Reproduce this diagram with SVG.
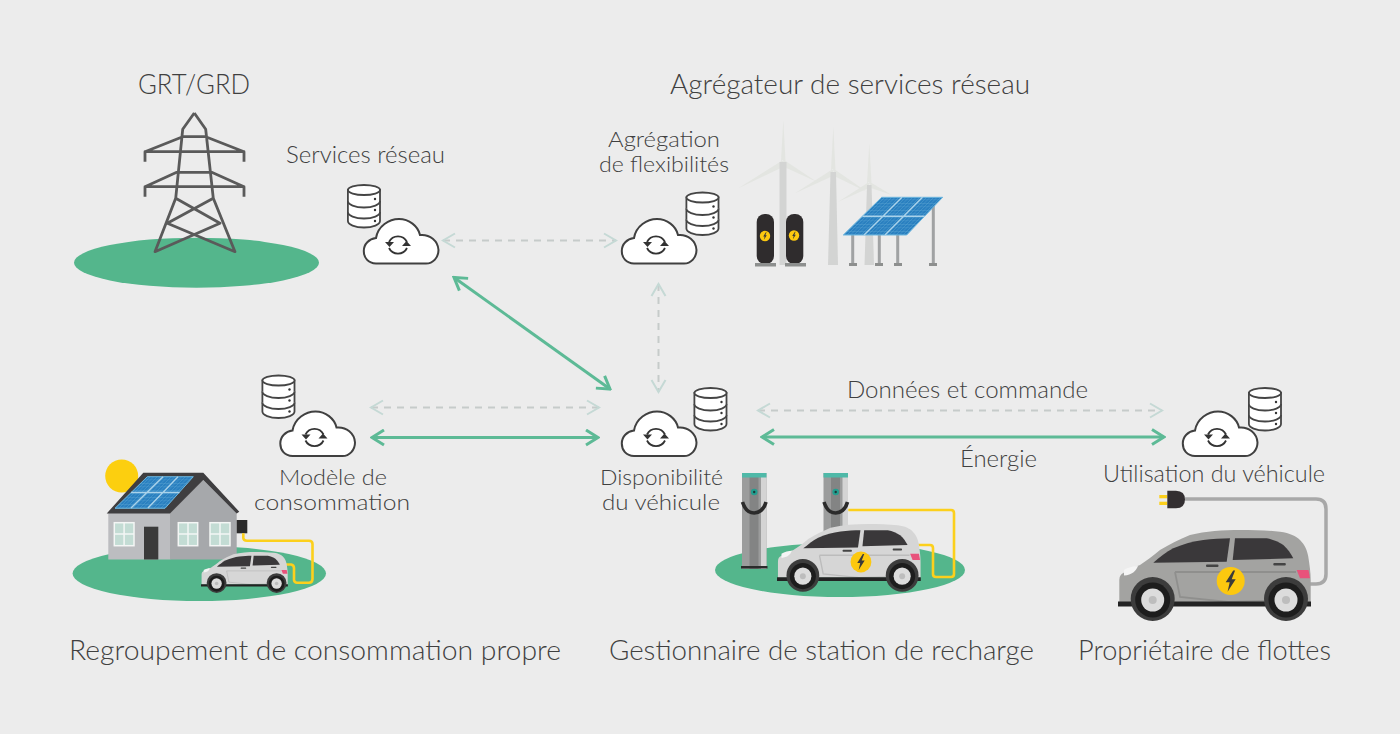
<svg xmlns="http://www.w3.org/2000/svg" width="1400" height="734" viewBox="0 0 1400 734">
<style>
text{font-family:"Lato","Open Sans","Liberation Sans",sans-serif;font-weight:300;fill:#404040}
.t1{font-size:27.5px}
.t2{font-size:23px}
.t3{font-size:22.4px}
.ground{fill:#54b68c}
.solid{fill:none;stroke:#5dba96;stroke-width:3;marker-start:url(#ag);marker-end:url(#ag)}
.dash{fill:none;stroke:#c6cbca;stroke-width:2;stroke-dasharray:7 6;marker-start:url(#ap);marker-end:url(#ap)}
.cab{fill:none;stroke:#fcd01c;stroke-width:2.6;stroke-linejoin:round}
.tw{fill:none;stroke:#5a5a5a;stroke-width:2.8;stroke-linejoin:round}
.blade{fill:#e3e5e1}
.mast{fill:#d3d4d3}
.leg{stroke:#a0a2a3;stroke-width:3}
.foot{fill:#8d8f8e}
.pv{fill:url(#cells);stroke:#6cb6de;stroke-width:1}
.pvl{stroke:#a9d2ea;stroke-width:1.4;fill:none}
.win{fill:#c3dcd4;stroke:#f4f6f5;stroke-width:1.5}
.winl{stroke:#f4f6f5;stroke-width:1.500;fill:none}
</style>
<defs>
<pattern id="cells" width="3.500" height="3.500" patternUnits="userSpaceOnUse" patternTransform="skewX(-45)"><rect width="3.500" height="3.500" fill="#2a80c0"/><path d="M0,0H3.500M0,0V3.500" stroke="#5fa8d6" stroke-width=".7"/></pattern>
<marker id="ag" viewBox="0 0 16 18" refX="14" refY="9" markerWidth="16" markerHeight="18" markerUnits="userSpaceOnUse" orient="auto-start-reverse"><path d="M2,1.500 14,9 2,16.500" fill="none" stroke="#5dba96" stroke-width="3"/></marker>
<marker id="ap" viewBox="0 0 16 18" refX="14" refY="9" markerWidth="16" markerHeight="18" markerUnits="userSpaceOnUse" orient="auto-start-reverse"><path d="M2,2 14,9 2,16" fill="none" stroke="#c5d9d5" stroke-width="2"/></marker>
<g id="cloud">
<path d="M13,45.500C5,45.500 .8,39.500 .8,33C.8,26 6,21 13,20C15,8 26,1 36,1C46,1 55,8 57,17C67,16 75,23 75.500,32C75.500,39.500 70,45.500 63,45.500Z" fill="#fff" stroke="#404040" stroke-width="2"/>
<path d="M26,24A10,10 0 0 1 44,24M44,30A10,10 0 0 1 26,30" fill="none" stroke="#333" stroke-width="1.800"/>
<path d="M22,25H31L26.500,30ZM39,29H48L43.500,24Z" fill="#333" transform="translate(0,-1)"/>
</g>
<g id="db" fill="#fff" stroke="#454545" stroke-width="1.800">
<path d="M.9,6V37C.9,40.500 8,43.500 17,43.500S33,40.500 33,37V6Z"/>
<path d="M.9,17C.9,20.500 8,23.500 17,23.500S33,20.500 33,17M.9,28C.9,31.500 8,34.500 17,34.500S33,31.500 33,28"/>
<ellipse cx="17" cy="6" rx="16" ry="5"/>
<g fill="#333" stroke="none"><circle cx="28" cy="15" r="1.200"/><circle cx="28" cy="26" r="1.200"/><circle cx="28" cy="37" r="1.200"/></g>
</g>
<path id="bolt" d="M2,-8.500 -4,1 -.8,1 -2.500,8.500 4,-1.500 .8,-1.500 3.500,-8.500Z" fill="#3a3a3a"/>
<g id="car">
<path d="M1.300,72V50C1.500,46 3,44 5.300,43C10,40 16,37 22,35C28,31 35,26 42,20C52,14 62,9 72,5C88,1 105,0 122,0C136,0 150,.3 162,1.700C172,3 178,6 182,10C187,15 189,20 190.300,26.700C191.500,35 192.700,42 192.700,50V72Z"/>
<path d="M0,71.500H193V76.500H0Z" fill="#232323"/>
<circle cx="34.700" cy="69" r="22" fill="#3c3c3c"/><circle cx="168" cy="69" r="22" fill="#3c3c3c"/>
<path d="M57,42 62,67 110,72 146,71M57,42H178" fill="none" stroke="#000" stroke-opacity=".12" stroke-width="1.800"/>
<path d="M35.300,32.700C42,27 48,22 55.300,18.300C65,14 75,11.500 85.300,10C94,9 104,8.300 112,8.300L108.700,31.700Z" fill="#3a383a"/>
<path d="M117,8.300H148.700C155,9.500 161,12 165.300,15C170,19 173,24 175.300,28.300L114.700,30Z" fill="#3a383a"/>
<rect x="88" y="34.500" width="12.500" height="2.600" rx="1" fill="#444"/><rect x="155.300" y="33" width="12.500" height="2.600" rx="1" fill="#444"/>
<path d="M178.700,40H190.500L192,48.300H182Z" fill="#e8527b"/>
<path d="M6,40C10,37.500 16,36 20,36C18,41 14,45 6,45.500Z" fill="#f5f5f5"/>
<circle cx="34.700" cy="70" r="17.500" fill="#1d1d1d"/><circle cx="168" cy="70" r="17.500" fill="#1d1d1d"/>
<circle cx="34.700" cy="70" r="11.500" fill="#dcdcdc"/><circle cx="168" cy="70" r="11.500" fill="#dcdcdc"/>
<circle cx="34.700" cy="70" r="4" fill="#bdbdbd"/><circle cx="168" cy="70" r="4" fill="#bdbdbd"/>
</g>
<g id="badge"><circle cx="112.700" cy="51" r="14" fill="#fcc80f"/><use href="#bolt" transform="translate(112.700,51) scale(1.250)"/></g>
<g id="pillar">
<rect x="0" y="0" width="24.500" height="96" fill="#9b9c9c"/>
<rect x="7.500" y="0" width="9" height="96" fill="#838484"/>
<rect x="19" y="0" width="5.500" height="96" fill="#d4d4d4"/>
<rect x="0" y="0" width="24.500" height="4.500" fill="#4fb9a8"/>
<circle cx="12.200" cy="19" r="3.300" fill="#239e8f"/><circle cx="12.200" cy="19" r="1.200" fill="#1c3a3a"/>
<path d="M.5,29C3,37 8,40 12.200,40S22,37 24,29" fill="none" stroke="#2b2b2b" stroke-width="3.600"/>
</g>
</defs>
<rect width="1400" height="734" fill="#ececec"/>

<g id="connectors">
<path class="dash" d="M443,240.500H616"/>
<path class="dash" d="M658.500,284V392"/>
<path class="dash" d="M371,407.500H599"/>
<path class="dash" d="M758,410.500H1162"/>
<path class="solid" d="M454,277.500 610,389"/>
<path class="solid" d="M372,437.500H598"/>
<path class="solid" d="M762,437H1164"/>
</g>

<g id="grt">
<ellipse class="ground" cx="196.500" cy="262.700" rx="122.500" ry="25"/>
<path class="tw" d="M194.300,113 182.700,129.300 175.700,198.300 155,251.700 220,223.300 175.700,198.300M194.300,113 205.700,129.300 213.300,198.300 235,251.700 167.300,223.300 213.300,198.300M182.700,136.700H205.700M145,161.700V151.700H244V161.700M145,151.700 182.700,136.700M244,151.700 205.700,136.700M145,196.700V186.700H244V196.700M145,186.700 176.700,172.300H211.700L244,186.700"/>
<text class="t1" x="138" y="94" textLength="112" lengthAdjust="spacingAndGlyphs">GRT/GRD</text>
</g>

<g id="services-reseau">
<use href="#db" x="347" y="184"/>
<use href="#cloud" x="363" y="218"/>
<text class="t2" x="286" y="163" textLength="159" lengthAdjust="spacingAndGlyphs">Services réseau</text>
</g>

<g id="agregateur">
<text class="t1" x="670" y="94" textLength="360" lengthAdjust="spacingAndGlyphs">Agrégateur de services réseau</text>
<path class="blade" d="M781,161 783.300,120 785.500,161ZM783,160 738.300,188.300 785,166ZM784,160 816.700,181.700 782,166Z"/>
<rect class="mast" x="779.500" y="162" width="7" height="103"/>
<path class="blade" d="M831,170 833.300,126.700 835.500,170ZM833,169 795,193.300 835,175ZM834,169 866.700,191.700 832,175Z"/>
<path class="mast" d="M830.500,172H836L838,265H828Z"/>
<path class="blade" d="M867,183 869.300,143 871.500,183ZM869,182 838.300,201.700 871,187ZM870,182 891.700,195 868,187Z"/>
<path class="mast" d="M867,185H871.500L874,265H864.500Z"/>
<rect x="756.700" y="214" width="17.300" height="50" rx="8" fill="#2f2c2d"/>
<rect x="786" y="214" width="17.300" height="50" rx="8" fill="#2f2c2d"/>
<rect x="755" y="263" width="21" height="3.500" fill="#8d8f8e"/>
<rect x="785" y="263" width="21" height="3.500" fill="#8d8f8e"/>
<circle cx="765" cy="236" r="5.200" fill="#fcc80f"/><use href="#bolt" transform="translate(765,236) scale(.45)"/>
<circle cx="794" cy="235.500" r="5.200" fill="#fcc80f"/><use href="#bolt" transform="translate(794,235.500) scale(.45)"/>
<path class="leg" d="M852.700,235V264M879.300,235V264M897.700,235V264M933.300,206V264"/>
<g class="foot"><rect x="849" y="263" width="8" height="3"/><rect x="875" y="263" width="8" height="3"/><rect x="894" y="263" width="8" height="3"/><rect x="929" y="263" width="8" height="3"/></g>
<path class="pv" d="M843.300,235 881.700,197.300H942.700L906.700,235Z"/>
<path class="pvl" d="M862.500,216.200H924.700M864,235 902,197.300M885,235 922.500,197.300"/>
<use href="#cloud" x="621" y="218"/>
<use href="#db" x="685.500" y="191.500"/>
<text class="t3" x="608" y="147" textLength="112" lengthAdjust="spacingAndGlyphs">Agrégation</text>
<text class="t3" x="599" y="172" textLength="130" lengthAdjust="spacingAndGlyphs">de flexibilités</text>
</g>

<g id="consommation">
<ellipse class="ground" cx="199.300" cy="573.500" rx="126.700" ry="27.500"/>
<circle cx="121.700" cy="476" r="16.500" fill="#fccf0f"/>
<rect x="108.300" y="512" width="62" height="47.500" fill="#bcbdc0"/>
<path d="M170,513 203.300,480 236.700,513V559.500H170Z" fill="#a6a8ab"/>
<path d="M106.700,513.500 143.300,472.700H203.300L239.300,511.700 236.700,513.500 203.300,480 170,513.500Z" fill="#3f3e40"/>
<path class="pv" d="M115,508.300 147.300,476.700H193.300L165,508.300Z"/>
<path class="pvl" d="M131,492.500H179.500M131,508 163,476.700M148,508 178,476.700"/>
<rect x="144" y="526.700" width="14.300" height="32.800" fill="#3a3a3a"/>
<rect class="win" x="114.300" y="522.700" width="19.700" height="23"/><path class="winl" d="M124.100,522.700V545.700M114.300,534H134"/>
<rect class="win" x="178.300" y="522.700" width="19.400" height="23"/><path class="winl" d="M188,522.700V545.700M178.300,534H197.700"/>
<rect class="win" x="210" y="522.700" width="20" height="23"/><path class="winl" d="M220,522.700V545.700M210,534H230"/>
<rect x="236.700" y="520" width="10.600" height="13.300" fill="#2b2b2b"/>
<path class="cab" d="M243.300,533.300V538Q243.500,540.700 247,540.700H309Q312.500,540.700 312.500,544V579Q312.500,582.700 309,582.700H297Q294.500,582.700 294,580V568Q294,565 291,564.500H281"/>
<use href="#car" transform="translate(201,552) scale(.45)" fill="#d6d6d6"/>
<use href="#db" x="261.500" y="374.500"/>
<use href="#cloud" x="279.500" y="410.500"/>
<text class="t3" x="279" y="485" textLength="108" lengthAdjust="spacingAndGlyphs">Modèle de</text>
<text class="t3" x="254" y="510" textLength="156" lengthAdjust="spacingAndGlyphs">consommation</text>
<text class="t1" x="69" y="660" textLength="492" lengthAdjust="spacingAndGlyphs">Regroupement de consommation propre</text>
</g>

<g id="gestionnaire">
<ellipse class="ground" cx="840" cy="570" rx="125" ry="27"/>
<use href="#pillar" x="823.500" y="473"/>
<use href="#pillar" x="742" y="473"/>
<rect x="741" y="566" width="26.500" height="2.500" fill="#2b2b2b"/>
<path class="cab" d="M848.300,510H951Q954,510 954,513V574Q954,577 951,577H936Q933,577 933,574V548Q933,545 930,545H912"/>
<g transform="translate(777,524) scale(.745)"><use href="#car" fill="#d6d6d6"/><use href="#badge"/></g>
<use href="#cloud" x="621" y="410.500"/>
<use href="#db" x="693.500" y="387"/>
<text class="t3" x="600" y="485" textLength="123" lengthAdjust="spacingAndGlyphs">Disponibilité</text>
<text class="t3" x="602" y="510" textLength="118" lengthAdjust="spacingAndGlyphs">du véhicule</text>
<text class="t1" x="609" y="660" textLength="425" lengthAdjust="spacingAndGlyphs">Gestionnaire de station de recharge</text>
</g>

<g id="labels">
<text class="t2" x="847" y="398" textLength="241" lengthAdjust="spacingAndGlyphs">Données et commande</text>
<text class="t2" x="960" y="467" textLength="77" lengthAdjust="spacingAndGlyphs">Énergie</text>
</g>

<g id="proprietaire">
<use href="#cloud" x="1182" y="410.500"/>
<use href="#db" x="1248" y="387"/>
<text class="t2" x="1103" y="482" textLength="222" lengthAdjust="spacingAndGlyphs">Utilisation du véhicule</text>
<path d="M1185,499H1316Q1326,499 1326,509V574Q1326,584 1316,584H1306" fill="none" stroke="#a8a8a8" stroke-width="3.500"/>
<rect x="1159.300" y="495" width="8" height="3.300" fill="#fcd01c"/><rect x="1159.300" y="501.700" width="8" height="3.300" fill="#fcd01c"/>
<path d="M1167.300,490.700H1176Q1185,491 1185,499.500T1176,508.300H1167.300Z" fill="#332f31"/>
<g transform="translate(1118,530)"><use href="#car" fill="#a3a3a1"/><use href="#badge"/></g>
<text class="t1" x="1078" y="660" textLength="253" lengthAdjust="spacingAndGlyphs">Propriétaire de flottes</text>
</g>
</svg>
